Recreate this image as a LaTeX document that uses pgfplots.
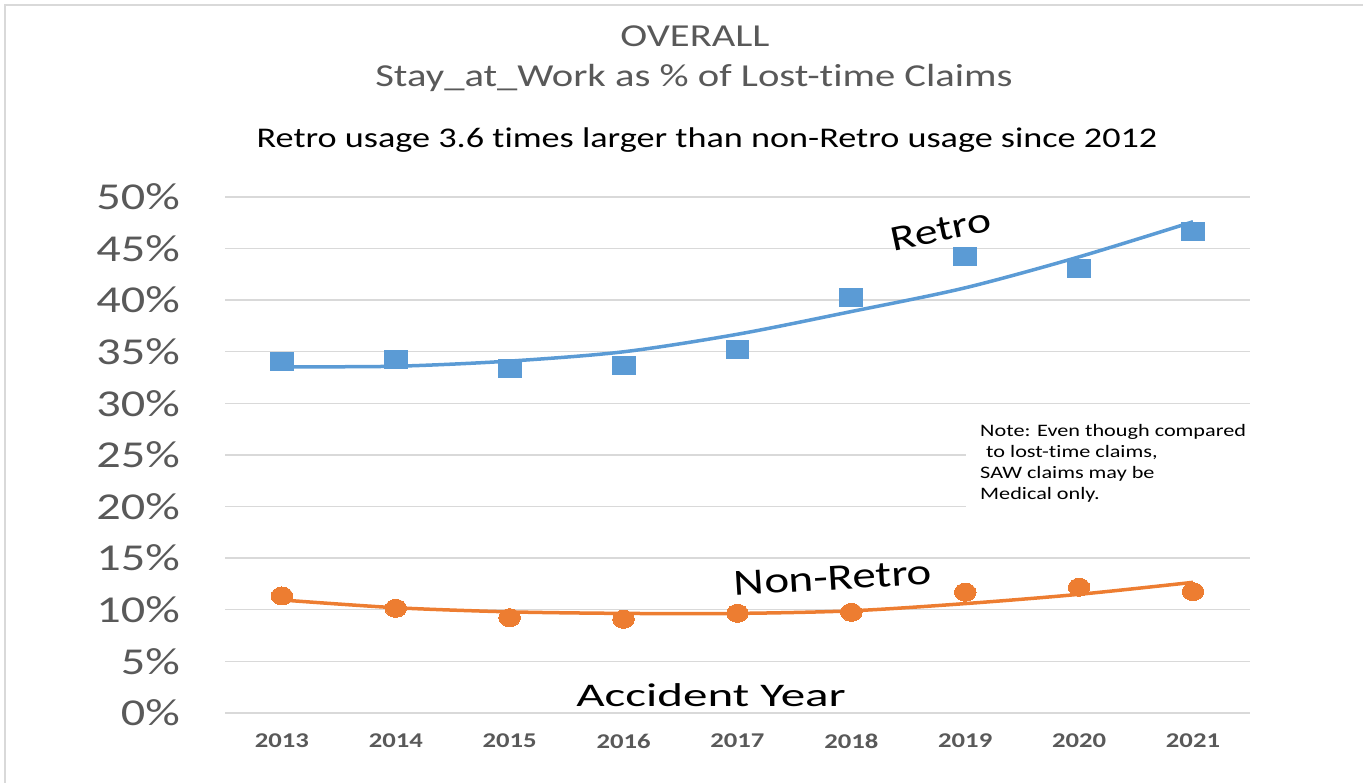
\documentclass[border=0pt]{standalone}
\usepackage{fontspec}
\setmainfont{Carlito}[FakeStretch=1.27, Ligatures=NoCommon]
\usepackage{graphicx}
\usepackage{pgfplots}
\pgfplotsset{compat=1.18}
\definecolor{tgray}{HTML}{595959}
\definecolor{gridc}{HTML}{D9D9D9}
\definecolor{sblue}{HTML}{5B9BD5}
\definecolor{sorange}{HTML}{ED7D31}

\pgfplotstableread{
year retro retrotrend
2013 34.05 33.55
2014 34.3  33.6
2015 33.4  34.1
2016 33.65 35.0
2017 35.2  36.7
2018 40.3  38.9
2019 44.2  41.2
2020 43.1  44.2
2021 46.7  47.6
}\retrotab
\pgfplotstableread{
year nonretro nonretrotrend
2013 11.34 10.95
2014 10.14 10.2
2015 9.24  9.8
2016 9.08  9.65
2017 9.66  9.65
2018 9.75  9.9
2019 11.7  10.6
2020 12.18 11.5
2021 11.76 12.66
}\nonretrotab

\begin{document}
\begin{tikzpicture}[x=1pt,y=1pt]
\path[use as bounding box] (0,0) rectangle (1363,783);
\draw[color=gridc, line width=1.5pt] (5,0) -- (5,778) -- (1363,778);
\begin{axis}[
  at={(225pt,70pt)}, anchor=south west,
  scale only axis, width=1025pt, height=516pt,
  xmin=2012.5, xmax=2021.5, ymin=0, ymax=50,
  axis line style={draw=none},
  ymajorgrids, grid style={color=gridc, line width=1.4pt},
  major tick length=0pt,
  xtick={2013,2014,2015,2016,2017,2018,2019,2020,2021},
  xticklabels={2013,2014,2015,2016,2017,2018,2019,2020,2021},
  ytick={0,5,10,15,20,25,30,35,40,45,50},
  yticklabel={\pgfmathprintnumber{\tick}\%},
  /pgf/number format/assume math mode=true,
  /pgf/number format/1000 sep={},
  xticklabel style={font=\bfseries\fontsize{21}{21}\selectfont, text=tgray, anchor=center, yshift=-28pt},
  yticklabel style={font=\fontsize{38}{38}\selectfont, text=tgray, anchor=east, inner sep=0pt, xshift=-45pt},
  clip=false,
]
\addplot[sblue, line width=3.5pt, smooth, no marks] table[x=year, y=retrotrend] {\retrotab};
\addplot[sorange, line width=3.5pt, smooth, no marks] table[x=year, y=nonretrotrend] {\nonretrotab};
\addplot[sblue, only marks, mark=square*, mark size=9pt, mark options={fill=sblue, draw=sblue, line width=0pt, xscale=1.27}] table[x=year, y=retro] {\retrotab};
\addplot[sorange, only marks, mark=*, mark size=9pt, mark options={fill=sorange, draw=sorange, line width=0pt, xscale=1.2}] table[x=year, y=nonretro] {\nonretrotab};
\end{axis}
% note box
\fill[white] (966,268) rectangle (1262,368);
\begin{scope}[every node/.style={anchor=base west, inner sep=0pt, font=\fontsize{17.5}{21}\selectfont, text=black}]
\node at (980,346) {Note: Even though compared};
\node at (986,325) {to lost-time claims,};
\node at (980,304) {SAW claims may be};
\node at (980,283) {Medical only.};
\end{scope}
% titles
\node[anchor=base, inner sep=0pt, text=tgray, font=\fontsize{32}{32}\selectfont] at (695,736) {OVERALL};
\node[anchor=base, inner sep=0pt, text=tgray, font=\fontsize{32}{32}\selectfont] at (694,696) {Stay\_at\_Work as \% of Lost-time Claims};
\node[anchor=base, inner sep=0pt, text=black, font=\fontsize{28.5}{28.5}\selectfont] at (707,635) {Retro usage 3.6 times larger than non-Retro usage since 2012};
% series labels
\node[rotate=12, inner sep=0pt, text=black, font=\fontsize{36}{36}\selectfont] at (941,553) {Retro};
\node[rotate=3.5, inner sep=0pt, text=black, font=\fontsize{37}{37}\selectfont] at (833,205) {Non-Retro};
\node[anchor=base, inner sep=0pt, text=black, font=\fontsize{33}{33}\selectfont] at (711,76) {\scalebox{1.17}[1]{Accident Year}};
\end{tikzpicture}
\end{document}
